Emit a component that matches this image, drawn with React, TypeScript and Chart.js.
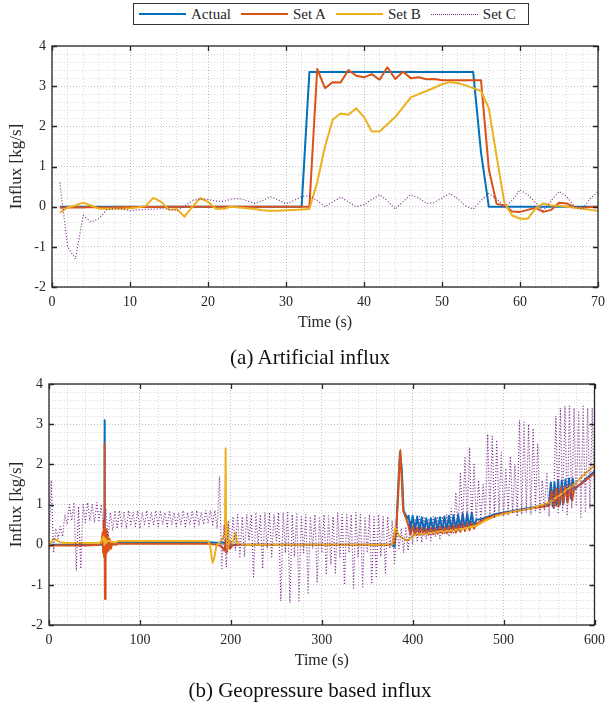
import { useEffect, useRef } from "react";
import { Chart, registerables } from "chart.js";

Chart.register(...registerables);

const BLUE = "#0072BD";
const RED = "#D95319";
const YELLOW = "#EDB120";
const PURPLE = "#7E2F8E";
const INK = "#262626";
const FONT = "'Liberation Serif', 'Times New Roman', serif";

const seriesNames = ["Actual", "Set A", "Set B", "Set C"];
const seriesColors = [BLUE, RED, YELLOW, PURPLE];

// ---------- (a) Artificial influx ----------
const artTime = [
  1, 2, 3, 4, 5, 6, 7, 8, 9, 10,
  11, 12, 13, 14, 15, 16, 17, 18, 19, 20,
  21, 22, 23, 24, 25, 26, 27, 28, 29, 30,
  31, 32, 33, 34, 35, 36, 37, 38, 39, 40,
  41, 42, 43, 44, 45, 46, 47, 48, 49, 50,
  51, 52, 53, 54, 55, 56, 57, 58, 59, 60,
  61, 62, 63, 64, 65, 66, 67, 68, 69, 70,
];
const artActual = [
  0, 0, 0, 0, 0, 0, 0, 0, 0, 0,
  0, 0, 0, 0, 0, 0, 0, 0, 0, 0,
  0, 0, 0, 0, 0, 0, 0, 0, 0, 0,
  0, 0, 3.35, 3.35, 3.35, 3.35, 3.35, 3.35, 3.35, 3.35,
  3.35, 3.35, 3.35, 3.35, 3.35, 3.35, 3.35, 3.35, 3.35, 3.35,
  3.35, 3.35, 3.35, 3.35, 1.35, 0, 0, 0, 0, 0,
  0, 0, 0, 0, 0, 0, 0, 0, 0, 0,
];
const artSetA = [
  -0.03, -0.02, -0.02, -0.02, -0.01, -0.02, -0.02, -0.02, -0.01, -0.01,
  -0.01, -0.01, -0.01, -0.01, 0, 0, 0, 0, 0, 0,
  0, 0, 0, 0, 0, 0, 0, 0, 0, 0,
  0, 0, 0, 3.43, 2.95, 3.1, 3.09, 3.4, 3.26, 3.22,
  3.3, 3.16, 3.47, 3.18, 3.36, 3.2, 3.22, 3.17, 3.18, 3.15,
  3.15, 3.15, 3.15, 3.15, 3.15, 0.94, 0.07, 0.03, -0.12, -0.13,
  -0.08, -0.03, -0.13, -0.08, 0.1, 0.08, -0.02, -0.03, -0.01, 0,
];
const artSetB = [
  -0.15, -0.02, 0.03, 0.1, 0.03, -0.05, -0.05, -0.05, -0.05, -0.04,
  -0.02, 0.02, 0.22, 0.12, -0.08, -0.06, -0.25, 0, 0.21, 0.12,
  -0.05, -0.05, 0, -0.02, -0.04, -0.06, -0.09, -0.1, -0.1, -0.09,
  -0.08, -0.07, -0.06, 0.6, 1.5, 2.17, 2.32, 2.29, 2.45, 2.23,
  1.87, 1.87, 2.05, 2.23, 2.47, 2.72, 2.8, 2.88, 2.96, 3.05,
  3.1, 3.08, 3.02, 2.95, 2.88, 2.45, 1.25, 0.1, -0.22, -0.3,
  -0.3, -0.05, 0.08, 0.03, 0.02, 0, -0.03, -0.05, -0.08, -0.1,
];
const artSetC = [
  0.6, -1.0, -1.3, -0.22, -0.38, -0.3, -0.08, -0.05, -0.05, -0.1,
  -0.08, -0.07, -0.06, -0.05, -0.06, -0.1, 0.02, 0.15, 0.2, 0.18,
  0.14, 0.13, 0.19, 0.2, 0.15, 0.08, 0.15, 0.25, 0.17, 0.07,
  0.15, 0.25, 0.27, 0.15, 0.0, 0.12, 0.24, 0.12, 0.0, 0.05,
  0.18, 0.3, 0.15, -0.06, 0.12, 0.3, 0.22, 0.08, 0.1, 0.22,
  0.33, 0.2, 0.02, -0.06, 0.15, 0.33, 0.2, 0.0, 0.15, 0.42,
  0.3, 0.1, -0.1, 0.15, 0.38, 0.25, 0.0, -0.06, 0.2, 0.38,
];

// ---------- (b) Geopressure based influx : [time, value] ----------
const geoActual: [number, number][] = [
  [0, 0], [59.5, 0], [60.5, 0], [61, 3.1], [61.5, 0.1], [62, 0], [63, 0.1], [64, 0], [66, 0.02], [70, 0.01],
  [74, 0.01], [76, 0.06], [175, 0.06], [185, 0.05], [195, 0.05], [200, 0], [376, 0], [380, -0.05], [382, 0.4], [384, 1.4],
  [386, 2.3], [388, 1.9], [390, 0.85], [392, 0.75], [394.5, 0.65],
  [395.5, 0.72], [397.5, 0.36], [400, 0.72], [402.5, 0.34], [405, 0.7], [407.5, 0.33], [410, 0.68], [412.5, 0.32],
  [415, 0.66], [417.5, 0.32], [420, 0.66], [422.5, 0.33], [425, 0.67], [427.5, 0.34], [430, 0.68], [432.5, 0.35],
  [435, 0.7], [437.5, 0.36], [440, 0.72], [442.5, 0.37], [445, 0.73], [447.5, 0.38], [450, 0.75], [452.5, 0.39],
  [455, 0.77], [457.5, 0.4], [460, 0.78], [462.5, 0.42], [465, 0.8], [467.5, 0.44], [470, 0.62],
  [475, 0.63], [480, 0.68], [490, 0.75], [500, 0.8], [510, 0.84], [520, 0.88], [530, 0.92], [540, 0.96], [550, 1.02],
  [552, 1.55], [554, 0.95], [556, 1.55], [558, 0.98], [560, 1.6], [562, 1.0], [564, 1.6], [566, 1.05], [568, 1.62],
  [570, 1.1], [572, 1.65], [574, 1.15], [576, 1.65], [578, 1.38], [585, 1.52], [590, 1.63], [600, 1.82],
];
const geoSetA: [number, number][] = [
  [0, -0.02], [40, -0.02], [56, 0], [58, 0.1], [59, 0.3], [59.5, -0.2], [60, 0.6], [60.5, -0.3], [61, 2.52], [61.3, 0.3],
  [61.6, -1.35], [62, 0.4], [62.5, -0.4], [63, 0.35], [63.5, -0.2], [64.5, 0.25], [65.5, -0.15], [66.5, 0.15], [68, -0.1], [70, 0.05],
  [73, 0], [76, 0.02], [175, 0.02], [185, 0], [190, -0.05], [193, -0.15], [194.5, 0.15], [195.5, -0.2], [197, 0.05], [199, -0.1],
  [202, -0.02], [206, 0], [376, 0], [380, 0.05], [382, 0.4], [384, 1.2], [385.5, 2.0], [386.5, 2.35], [388, 1.6], [389.5, 0.85],
  [392, 0.7], [395, 0.5],
  [397.5, 0.25], [400, 0.45], [402.5, 0.24], [405, 0.42], [407.5, 0.24], [410, 0.42], [412.5, 0.25], [415, 0.4],
  [417.5, 0.25], [420, 0.42], [422.5, 0.26], [425, 0.42], [427.5, 0.27], [430, 0.44], [432.5, 0.28], [435, 0.45],
  [437.5, 0.28], [440, 0.46], [442.5, 0.3], [445, 0.48], [447.5, 0.3], [450, 0.5], [452.5, 0.32], [455, 0.52],
  [457.5, 0.34], [460, 0.54], [462.5, 0.36], [465, 0.55], [467.5, 0.4], [470, 0.52],
  [475, 0.58], [480, 0.65], [490, 0.72], [500, 0.78], [510, 0.82], [520, 0.86], [530, 0.9], [540, 0.93], [550, 0.97],
  [553, 1.35], [555.5, 0.92], [558, 1.4], [560.5, 0.95], [563, 1.42], [565.5, 1.0], [568, 1.45], [570.5, 1.05],
  [573, 1.48], [575.5, 1.1], [578, 1.42], [585, 1.5], [590, 1.6], [600, 1.78],
];
const geoSetB: [number, number][] = [
  [0, -0.1], [2, 0.05], [5, 0.15], [8, 0.12], [12, 0.06], [20, 0.04], [40, 0.04], [56, 0.05], [58, 0.1], [60, 0.2],
  [61, 0], [62, 0.15], [63, 0.05], [65, 0.1], [70, 0.06], [74, 0.06], [76, 0.09], [175, 0.09], [177, 0], [178.5, -0.25],
  [180, -0.45], [182, -0.3], [184, -0.05], [186, 0.03], [189, 0.08], [192, 0.2], [193.5, 0.3], [194.3, 2.4], [194.8, 0.2], [195.5, 0.55],
  [196, -0.1], [196.5, 0.5], [197.5, 0], [199, 0.1], [201, 0.02], [203, 0.12], [205, 0.3], [207, 0.05], [210, 0], [377, 0],
  [379, 0.2], [381, 0.45], [383, 0.3], [386, 0.2], [390, 0.15], [394, 0.1], [397, 0.15], [400, 0.22], [410, 0.27], [420, 0.3],
  [430, 0.33], [440, 0.35], [450, 0.38], [460, 0.42], [470, 0.47], [480, 0.6], [490, 0.7], [500, 0.76], [510, 0.82], [520, 0.86],
  [530, 0.9], [540, 0.97], [550, 1.05], [560, 1.2], [570, 1.38], [575, 1.45], [580, 1.55], [590, 1.78], [600, 1.97],
];
// Set C sampled every 2.5 s from 0 to 600 s
const geoSetCStep = 2.5;
const geoSetC = [
  0.0, 1.6, -0.2, 0.4, 0.15, 0.45, 0.2, 0.75, 0.5, 1.0,
  0.6, 1.05, -0.65, 0.95, -0.6, 1.0, 0.55, 1.05, 0.6, 1.0,
  0.55, 1.05, 0.6, 1.0, 0.4, 0.9, 0.2, 0.8, 0.35, 0.85,
  0.4, 0.85, 0.45, 0.8, 0.4, 0.85, 0.5, 0.8, 0.45, 0.85,
  0.4, 0.8, 0.5, 0.85, 0.45, 0.8, 0.5, 0.85, 0.45, 0.85,
  0.5, 0.8, 0.45, 0.85, 0.5, 0.8, 0.45, 0.8, 0.5, 0.85,
  0.45, 0.8, 0.5, 0.85, 0.45, 0.85, 0.5, 0.8, 0.5, 0.85,
  0.55, 0.85, 0.5, 0.85, 0.4, 1.7, -0.6, 0.5, -0.55, 0.6,
  -0.1, 0.7, -0.15, 0.75, -0.3, 0.7, -0.3, 0.75, 0.1, 0.75,
  -0.8, 0.8, 0.0, 0.75, -0.6, 0.8, -0.1, 0.8, -0.3, 0.75,
  0.1, 0.8, -1.4, 0.8, -0.2, 0.8, -1.45, 0.75, -0.3, 0.8,
  -1.4, 0.7, -0.2, 0.75, -1.2, 0.7, -0.1, 0.75, -0.95, 0.7,
  -0.2, 0.75, -0.75, 0.75, -0.5, 0.7, -0.7, 0.8, -0.3, 0.75,
  -1.0, 0.75, -0.2, 0.75, -1.08, 0.8, -0.3, 0.75, -1.05, 0.7,
  -0.2, 0.75, -0.98, 0.7, -0.83, 0.75, -0.3, 0.7, -0.7, 0.7,
  -0.1, 0.6, -0.5, 0.5, -0.1, 0.4, -0.2, 0.45, -0.15, 0.6,
  0.0, 0.65, 0.1, 0.7, 0.05, 0.7, 0.15, 0.65, 0.1, 0.7,
  0.2, 0.7, 0.15, 0.7, 0.25, 0.75, 0.2, 0.9, 0.3, 1.3,
  0.35, 1.8, 0.4, 2.2, 0.45, 2.42, 0.5, 2.0, 0.55, 1.6,
  0.6, 1.5, 0.65, 2.75, 0.7, 2.7, 0.65, 2.6, 0.75, 2.3,
  0.7, 1.9, 0.75, 2.2, 0.8, 2.0, 0.7, 3.1, 0.75, 3.05,
  0.8, 3.0, 0.75, 2.9, 0.85, 2.5, 0.8, 1.6, 0.85, 1.8,
  0.7, 1.5, 0.9, 3.2, 0.8, 3.4, 0.85, 3.45, 0.75, 3.45,
  0.9, 3.4, 0.95, 3.3, 0.65, 3.45, 0.8, 3.4, 0.9, 3.4,
  1.0,
];

const isWhole = (v: number, step: number) => Math.abs(v / step - Math.round(v / step)) < 1e-6;

function boxPlugin(majorX: number) {
  return {
    id: "axesBox",
    afterDatasetsDraw(chart: any) {
      const { ctx, chartArea, scales } = chart;
      const { left, right, top, bottom } = chartArea;
      ctx.save();
      ctx.strokeStyle = INK;
      ctx.lineWidth = 1.3;
      ctx.setLineDash([]);
      ctx.strokeRect(left, top, right - left, bottom - top);
      const len = 5;
      ctx.beginPath();
      scales.x.ticks.forEach((t: any) => {
        if (!isWhole(t.value, majorX)) return;
        const px = Math.round(scales.x.getPixelForValue(t.value)) + 0.5;
        ctx.moveTo(px, bottom);
        ctx.lineTo(px, bottom - len);
        ctx.moveTo(px, top);
        ctx.lineTo(px, top + len);
      });
      scales.y.ticks.forEach((t: any) => {
        if (!isWhole(t.value, 1)) return;
        const py = Math.round(scales.y.getPixelForValue(t.value)) + 0.5;
        ctx.moveTo(left, py);
        ctx.lineTo(left + len, py);
        ctx.moveTo(right, py);
        ctx.lineTo(right - len, py);
      });
      ctx.stroke();
      ctx.restore();
    },
  };
}

type Cfg = {
  datasets: any[];
  xMax: number;
  xMinor: number;
  xMajor: number;
  padTop: number;
  padRight: number;
  yWidth: number;
  xHeight: number;
  xTitlePad: number;
};

function makeConfig(c: Cfg): any {
  const gridColor = (major: boolean) => (major ? "rgba(0,0,0,0.24)" : "rgba(0,0,0,0.15)");
  return {
    type: "line",
    data: { datasets: c.datasets },
    options: {
      animation: false,
      responsive: false,
      devicePixelRatio: 1,
      events: [],
      layout: { padding: { top: c.padTop, right: c.padRight, left: 0, bottom: 0 } },
      plugins: { legend: { display: false }, tooltip: { enabled: false } },
      elements: { point: { radius: 0 }, line: { tension: 0, borderJoinStyle: "round" } },
      scales: {
        x: {
          type: "linear",
          min: 0,
          max: c.xMax,
          afterFit: (s: any) => {
            s.height = c.xHeight;
          },
          ticks: {
            stepSize: c.xMinor,
            autoSkip: false,
            maxRotation: 0,
            padding: 7,
            color: INK,
            font: { family: FONT, size: 14 },
            callback: (v: number) => (isWhole(v, c.xMajor) ? String(Math.round(v)) : ""),
          },
          grid: {
            drawTicks: false,
            lineWidth: 1,
            color: (ctx: any) => gridColor(isWhole(ctx.tick.value, c.xMajor)),
          },
          border: { display: false, dash: [1, 2] },
          title: {
            display: true,
            text: "Time (s)",
            color: INK,
            font: { family: FONT, size: 16 },
            padding: { top: 0, bottom: c.xTitlePad },
          },
        },
        y: {
          type: "linear",
          min: -2,
          max: 4,
          afterFit: (s: any) => {
            s.width = c.yWidth;
          },
          ticks: {
            stepSize: 0.2,
            autoSkip: false,
            padding: 6,
            color: INK,
            font: { family: FONT, size: 14 },
            callback: (v: number) => (isWhole(v, 1) ? String(Math.round(v)) : ""),
          },
          grid: {
            drawTicks: false,
            lineWidth: 1,
            color: (ctx: any) => gridColor(isWhole(ctx.tick.value, 1)),
          },
          border: { display: false, dash: [1, 2] },
          title: {
            display: true,
            text: "Influx [kg/s]",
            color: INK,
            font: { family: FONT, size: 17 },
            padding: { top: 6, bottom: 0 },
          },
        },
      },
    },
    plugins: [boxPlugin(c.xMajor)],
  };
}

function lineDs(i: number, data: { x: number; y: number }[]) {
  const dotted = i === 3;
  return {
    label: seriesNames[i],
    data,
    borderColor: seriesColors[i],
    borderWidth: dotted ? 1.2 : 2,
    borderDash: dotted ? [1, 2] : [],
    fill: false,
    order: 4 - i,
  };
}

const fromArrays = (xs: number[], ys: number[]) => ys.map((y, i) => ({ x: xs[i], y }));
const fromPairs = (p: [number, number][]) => p.map(([x, y]) => ({ x, y }));

export default function App() {
  const topRef = useRef<HTMLCanvasElement>(null);
  const botRef = useRef<HTMLCanvasElement>(null);

  useEffect(() => {
    const top = new Chart(
      topRef.current!,
      makeConfig({
        datasets: [
          lineDs(0, fromArrays(artTime, artActual)),
          lineDs(1, fromArrays(artTime, artSetA)),
          lineDs(2, fromArrays(artTime, artSetB)),
          lineDs(3, fromArrays(artTime, artSetC)),
        ],
        xMax: 70,
        xMinor: 2,
        xMajor: 10,
        padTop: 46,
        padRight: 9,
        yWidth: 52,
        xHeight: 53,
        xTitlePad: 8,
      })
    );
    const bot = new Chart(
      botRef.current!,
      makeConfig({
        datasets: [
          lineDs(0, fromPairs(geoActual)),
          lineDs(1, fromPairs(geoSetA)),
          lineDs(2, fromPairs(geoSetB)),
          lineDs(3, geoSetC.map((y, i) => ({ x: i * geoSetCStep, y }))),
        ],
        xMax: 600,
        xMinor: 20,
        xMajor: 100,
        padTop: 44,
        padRight: 11,
        yWidth: 49,
        xHeight: 87,
        xTitlePad: 42,
      })
    );
    return () => {
      top.destroy();
      bot.destroy();
    };
  }, []);

  const caption: React.CSSProperties = {
    position: "absolute",
    left: 4,
    width: 612,
    textAlign: "center",
    fontFamily: FONT,
    fontSize: 21,
    lineHeight: "24px",
    color: "#111",
  };

  return (
    <div style={{ position: "absolute", left: 0, top: 0, width: 612, height: 712, background: "#fff" }}>
      <canvas ref={topRef} width={612} height={340} style={{ position: "absolute", left: 0, top: 0, width: 612, height: 340 }} />
      <canvas ref={botRef} width={612} height={372} style={{ position: "absolute", left: 0, top: 340, width: 612, height: 372 }} />
      <div
        style={{
          position: "absolute",
          left: 133,
          top: 3,
          width: 389,
          height: 20,
          border: "1px solid #333",
          background: "#fff",
          display: "flex",
          alignItems: "center",
          paddingLeft: 5,
          boxSizing: "content-box",
          fontFamily: FONT,
          fontSize: 15,
          color: INK,
        }}
      >
        {seriesNames.map((name, i) => (
          <div key={name} style={{ display: "flex", alignItems: "center", marginRight: 10 }}>
            <div
              style={{
                width: 47,
                height: 0,
                borderTop: i === 3 ? `1.5px dotted ${PURPLE}` : `2px solid ${seriesColors[i]}`,
                marginRight: 5,
              }}
            />
            <span>{name}</span>
          </div>
        ))}
      </div>
      <div style={{ ...caption, top: 345 }}>(a) Artificial influx</div>
      <div style={{ ...caption, top: 678 }}>(b) Geopressure based influx</div>
    </div>
  );
}
